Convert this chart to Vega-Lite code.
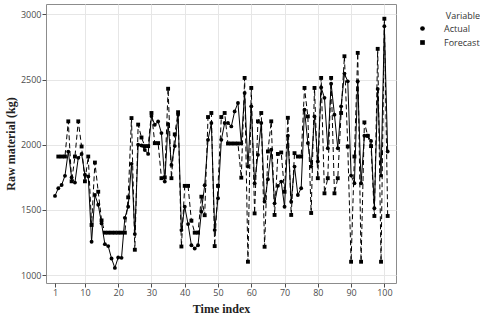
{
"$schema": "https://vega.github.io/schema/vega-lite/v6.json",
"width": 350, "height": 279,
"autosize": {"type": "none"},
"padding": {"left": 46, "top": 4, "right": 84, "bottom": 39},
"background": "white",
"config": {"view": {"stroke": "#8c8c8c", "strokeWidth": 1},
  "axis": {"labelOverlap": false, "domain": false, "labelFont": "Open Sans", "labelFontSize": 9, "labelColor": "#4d4d4d", "labelPadding": 1,
    "tickColor": "#4d4d4d", "tickSize": 4, "grid": true, "gridColor": "#e6e6e6",
    "titleFont": "Liberation Serif", "titleFontSize": 12, "titleFontWeight": "bold", "titleColor": "#222"}
},
"data": {"values": [
{"t":1,"Variable":"Actual","value":1608},{"t":2,"Variable":"Actual","value":1667},{"t":3,"Variable":"Actual","value":1692},{"t":4,"Variable":"Actual","value":1762},{"t":5,"Variable":"Actual","value":1948},{"t":6,"Variable":"Actual","value":1750},{"t":7,"Variable":"Actual","value":1710},{"t":8,"Variable":"Actual","value":1900},{"t":9,"Variable":"Actual","value":1930},{"t":10,"Variable":"Actual","value":1770},
{"t":11,"Variable":"Actual","value":1757},{"t":12,"Variable":"Actual","value":1256},{"t":13,"Variable":"Actual","value":1615},{"t":14,"Variable":"Actual","value":1540},{"t":15,"Variable":"Actual","value":1397},{"t":16,"Variable":"Actual","value":1238},{"t":17,"Variable":"Actual","value":1223},{"t":18,"Variable":"Actual","value":1128},{"t":19,"Variable":"Actual","value":1056},{"t":20,"Variable":"Actual","value":1136},
{"t":21,"Variable":"Actual","value":1133},{"t":22,"Variable":"Actual","value":1440},{"t":23,"Variable":"Actual","value":1525},{"t":24,"Variable":"Actual","value":1854},{"t":25,"Variable":"Actual","value":1315},{"t":26,"Variable":"Actual","value":2000},{"t":27,"Variable":"Actual","value":1995},{"t":28,"Variable":"Actual","value":1960},{"t":29,"Variable":"Actual","value":1930},{"t":30,"Variable":"Actual","value":2220},
{"t":31,"Variable":"Actual","value":2154},{"t":32,"Variable":"Actual","value":2179},{"t":33,"Variable":"Actual","value":2090},{"t":34,"Variable":"Actual","value":1718},{"t":35,"Variable":"Actual","value":2160},{"t":36,"Variable":"Actual","value":1846},{"t":37,"Variable":"Actual","value":1990},{"t":38,"Variable":"Actual","value":2230},{"t":39,"Variable":"Actual","value":1346},{"t":40,"Variable":"Actual","value":1525},
{"t":41,"Variable":"Actual","value":1392},{"t":42,"Variable":"Actual","value":1230},{"t":43,"Variable":"Actual","value":1205},{"t":44,"Variable":"Actual","value":1230},{"t":45,"Variable":"Actual","value":1487},{"t":46,"Variable":"Actual","value":1690},{"t":47,"Variable":"Actual","value":2038},{"t":48,"Variable":"Actual","value":2167},{"t":49,"Variable":"Actual","value":1346},{"t":50,"Variable":"Actual","value":1590},
{"t":51,"Variable":"Actual","value":2038},{"t":52,"Variable":"Actual","value":2167},{"t":53,"Variable":"Actual","value":2167},{"t":54,"Variable":"Actual","value":2141},{"t":55,"Variable":"Actual","value":2256},{"t":56,"Variable":"Actual","value":2321},{"t":57,"Variable":"Actual","value":2010},{"t":58,"Variable":"Actual","value":2397},{"t":59,"Variable":"Actual","value":1833},{"t":60,"Variable":"Actual","value":2295},
{"t":61,"Variable":"Actual","value":1705},{"t":62,"Variable":"Actual","value":1923},{"t":63,"Variable":"Actual","value":2167},{"t":64,"Variable":"Actual","value":1564},{"t":65,"Variable":"Actual","value":1736},{"t":66,"Variable":"Actual","value":1962},{"t":67,"Variable":"Actual","value":1551},{"t":68,"Variable":"Actual","value":1685},{"t":69,"Variable":"Actual","value":1718},{"t":70,"Variable":"Actual","value":1525},
{"t":71,"Variable":"Actual","value":2069},{"t":72,"Variable":"Actual","value":1564},{"t":73,"Variable":"Actual","value":1833},{"t":74,"Variable":"Actual","value":1615},{"t":75,"Variable":"Actual","value":1667},{"t":76,"Variable":"Actual","value":2269},{"t":77,"Variable":"Actual","value":2013},{"t":78,"Variable":"Actual","value":1833},{"t":79,"Variable":"Actual","value":2218},{"t":80,"Variable":"Actual","value":1872},
{"t":81,"Variable":"Actual","value":2440},{"t":82,"Variable":"Actual","value":2360},{"t":83,"Variable":"Actual","value":1974},{"t":84,"Variable":"Actual","value":2469},{"t":85,"Variable":"Actual","value":2231},{"t":86,"Variable":"Actual","value":1974},{"t":87,"Variable":"Actual","value":2295},{"t":88,"Variable":"Actual","value":2546},{"t":89,"Variable":"Actual","value":2487},{"t":90,"Variable":"Actual","value":1764},
{"t":91,"Variable":"Actual","value":1705},{"t":92,"Variable":"Actual","value":2487},{"t":93,"Variable":"Actual","value":1705},{"t":94,"Variable":"Actual","value":2069},{"t":95,"Variable":"Actual","value":2069},{"t":96,"Variable":"Actual","value":2030},{"t":97,"Variable":"Actual","value":1513},{"t":98,"Variable":"Actual","value":2428},{"t":99,"Variable":"Actual","value":1764},{"t":100,"Variable":"Actual","value":2910},
{"t":101,"Variable":"Actual","value":1949},
{"t":2,"Variable":"Forecast","value":1910},{"t":3,"Variable":"Forecast","value":1910},{"t":4,"Variable":"Forecast","value":1910},{"t":5,"Variable":"Forecast","value":2180},{"t":6,"Variable":"Forecast","value":1720},{"t":7,"Variable":"Forecast","value":1910},{"t":8,"Variable":"Forecast","value":2180},{"t":9,"Variable":"Forecast","value":1987},{"t":10,"Variable":"Forecast","value":1720},
{"t":11,"Variable":"Forecast","value":1910},{"t":12,"Variable":"Forecast","value":1385},{"t":13,"Variable":"Forecast","value":1864},{"t":14,"Variable":"Forecast","value":1640},{"t":15,"Variable":"Forecast","value":1420},{"t":16,"Variable":"Forecast","value":1326},{"t":17,"Variable":"Forecast","value":1326},{"t":18,"Variable":"Forecast","value":1326},{"t":19,"Variable":"Forecast","value":1326},{"t":20,"Variable":"Forecast","value":1326},
{"t":21,"Variable":"Forecast","value":1326},{"t":22,"Variable":"Forecast","value":1326},{"t":23,"Variable":"Forecast","value":1597},{"t":24,"Variable":"Forecast","value":2205},{"t":25,"Variable":"Forecast","value":1195},{"t":26,"Variable":"Forecast","value":2155},{"t":27,"Variable":"Forecast","value":2056},{"t":28,"Variable":"Forecast","value":1990},{"t":29,"Variable":"Forecast","value":1990},{"t":30,"Variable":"Forecast","value":2244},
{"t":31,"Variable":"Forecast","value":2013},{"t":32,"Variable":"Forecast","value":2013},{"t":33,"Variable":"Forecast","value":1744},{"t":34,"Variable":"Forecast","value":1750},{"t":35,"Variable":"Forecast","value":2430},{"t":36,"Variable":"Forecast","value":1744},{"t":37,"Variable":"Forecast","value":2080},{"t":38,"Variable":"Forecast","value":2250},{"t":39,"Variable":"Forecast","value":1220},{"t":40,"Variable":"Forecast","value":1685},
{"t":41,"Variable":"Forecast","value":1685},{"t":42,"Variable":"Forecast","value":1418},{"t":43,"Variable":"Forecast","value":1326},{"t":44,"Variable":"Forecast","value":1326},{"t":45,"Variable":"Forecast","value":1602},{"t":46,"Variable":"Forecast","value":1460},{"t":47,"Variable":"Forecast","value":2213},{"t":48,"Variable":"Forecast","value":2244},{"t":49,"Variable":"Forecast","value":1223},{"t":50,"Variable":"Forecast","value":1685},
{"t":51,"Variable":"Forecast","value":2213},{"t":52,"Variable":"Forecast","value":2244},{"t":53,"Variable":"Forecast","value":2010},{"t":54,"Variable":"Forecast","value":2010},{"t":55,"Variable":"Forecast","value":2010},{"t":56,"Variable":"Forecast","value":2010},{"t":57,"Variable":"Forecast","value":1748},{"t":58,"Variable":"Forecast","value":2513},{"t":59,"Variable":"Forecast","value":1103},{"t":60,"Variable":"Forecast","value":2436},
{"t":61,"Variable":"Forecast","value":1474},{"t":62,"Variable":"Forecast","value":2180},{"t":63,"Variable":"Forecast","value":2244},{"t":64,"Variable":"Forecast","value":1218},{"t":65,"Variable":"Forecast","value":1949},{"t":66,"Variable":"Forecast","value":2180},{"t":67,"Variable":"Forecast","value":1462},{"t":68,"Variable":"Forecast","value":1930},{"t":69,"Variable":"Forecast","value":1941},{"t":70,"Variable":"Forecast","value":1640},
{"t":71,"Variable":"Forecast","value":2207},{"t":72,"Variable":"Forecast","value":1462},{"t":73,"Variable":"Forecast","value":1936},{"t":74,"Variable":"Forecast","value":1910},{"t":75,"Variable":"Forecast","value":1910},{"t":76,"Variable":"Forecast","value":2436},{"t":77,"Variable":"Forecast","value":2218},{"t":78,"Variable":"Forecast","value":1477},{"t":79,"Variable":"Forecast","value":2436},{"t":80,"Variable":"Forecast","value":1744},
{"t":81,"Variable":"Forecast","value":2513},{"t":82,"Variable":"Forecast","value":1628},{"t":83,"Variable":"Forecast","value":1744},{"t":84,"Variable":"Forecast","value":2513},{"t":85,"Variable":"Forecast","value":1628},{"t":86,"Variable":"Forecast","value":1744},{"t":87,"Variable":"Forecast","value":2244},{"t":88,"Variable":"Forecast","value":2679},{"t":89,"Variable":"Forecast","value":1987},{"t":90,"Variable":"Forecast","value":1103},
{"t":91,"Variable":"Forecast","value":1910},{"t":92,"Variable":"Forecast","value":2705},{"t":93,"Variable":"Forecast","value":1103},{"t":94,"Variable":"Forecast","value":2172},{"t":95,"Variable":"Forecast","value":2069},{"t":96,"Variable":"Forecast","value":1990},{"t":97,"Variable":"Forecast","value":1454},{"t":98,"Variable":"Forecast","value":2736},{"t":99,"Variable":"Forecast","value":1103},{"t":100,"Variable":"Forecast","value":2967},
{"t":101,"Variable":"Forecast","value":1454}
]},
"layer": [
{"transform": [{"filter": "datum.Variable == 'Actual'"}],
 "mark": {"type": "line", "color": "black", "strokeWidth": 1},
 "encoding": {
  "x": {"field": "t", "type": "quantitative", "scale": {"domain": [-1.7, 103.5], "nice": false, "zero": false},
    "axis": {"values": [1,10,20,30,40,50,60,70,80,90,100], "tickCount": 20, "title": "Time index", "titlePadding": 6, "labelOverlap": false,
      "gridOpacity": {"condition": {"test": "datum.value == 1", "value": 0}, "value": 1}}},
  "y": {"field": "value", "type": "quantitative", "scale": {"domain": [940, 3080], "nice": false, "zero": false},
    "axis": {"values": [1000,1500,2000,2500,3000], "format": "d", "title": "Raw material (kg)", "titlePadding": 3}}
 }},
{"transform": [{"filter": "datum.Variable == 'Forecast'"}],
 "mark": {"type": "line", "color": "black", "strokeWidth": 1, "strokeDash": [5, 3]},
 "encoding": {
  "x": {"field": "t", "type": "quantitative"},
  "y": {"field": "value", "type": "quantitative"}
 }},
{"mark": {"type": "point", "filled": true, "color": "black", "opacity": 1, "size": 15},
 "encoding": {
  "x": {"field": "t", "type": "quantitative"},
  "y": {"field": "value", "type": "quantitative"},
  "shape": {"field": "Variable", "type": "nominal", "scale": {"domain": ["Actual","Forecast"], "range": ["circle","square"]},
    "legend": {"orient": "none", "legendX": 372, "legendY": 8, "title": "Variable",
      "titleFont": "Open Sans", "titleFontSize": 9, "titleFontWeight": "normal", "titleColor": "#333", "titleAnchor": "end", "titlePadding": 3,
      "labelFont": "Open Sans", "labelFontSize": 9, "labelColor": "#333", "labelOffset": 17, "symbolSize": 22, "rowPadding": 3,
      "symbolFillColor": "black", "symbolStrokeColor": "black"}}
 }}
]
}
